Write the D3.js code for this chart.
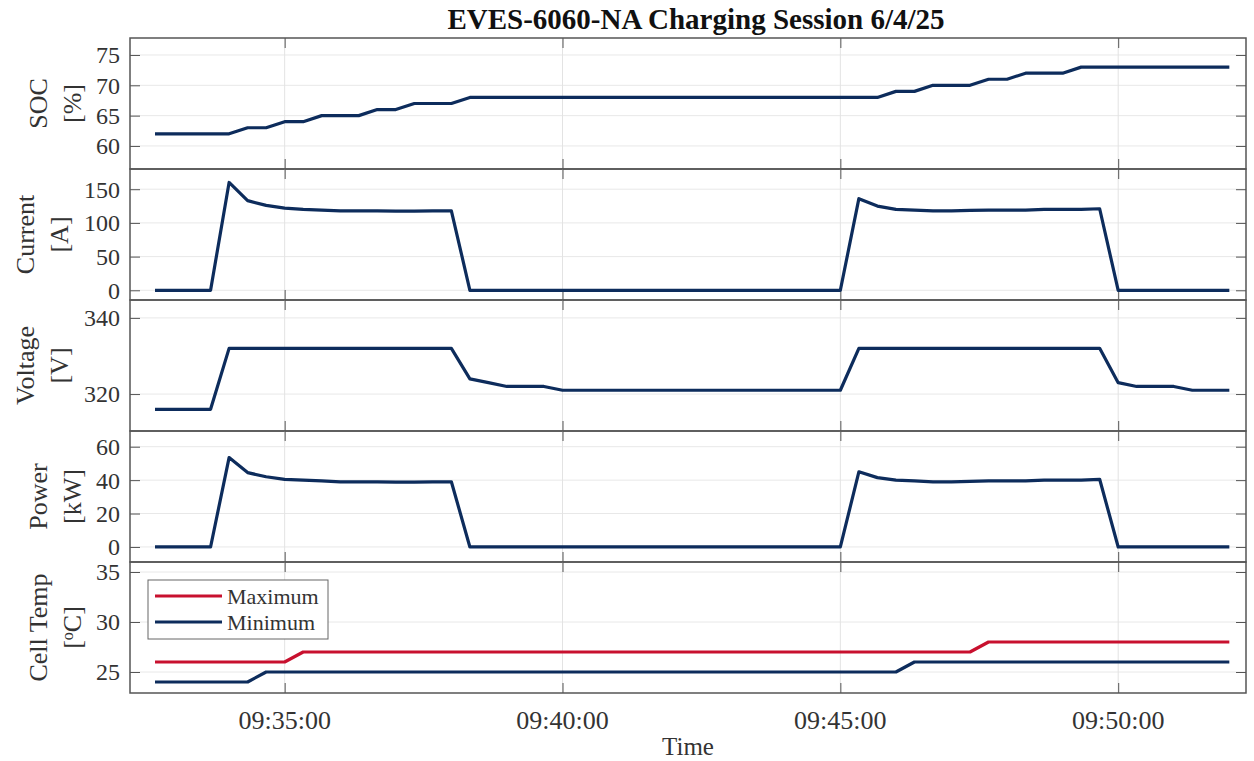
<!DOCTYPE html>
<html>
<head>
<meta charset="utf-8">
<script src="https://cdn.jsdelivr.net/npm/d3@7"></script>
<style>
  body { margin: 0; background: #fff; }
  svg text { font-family: "Liberation Serif", "Times New Roman", serif; fill: #333; }
</style>
</head>
<body>
<svg width="1254" height="761"></svg>
<script>
// data, times are hh:mm:ss
const socTimes = ['09:32:40','09:34:00','09:34:20','09:34:40','09:35:00','09:35:20','09:35:40','09:36:20','09:36:40','09:37:00','09:37:20','09:38:00','09:38:20','09:45:40','09:46:00','09:46:20','09:46:40','09:47:20','09:47:40','09:48:00','09:48:20','09:49:00','09:49:20','09:52:00'];
const socValues = [62,62,63,63,64,64,65,65,66,66,67,67,68,68,69,69,70,70,71,71,72,72,73,73];

const chargeTimes = ['09:32:40','09:33:40','09:34:00','09:34:20','09:34:40','09:35:00','09:35:20','09:35:40','09:36:00','09:36:20','09:36:40','09:37:00','09:37:20','09:37:40','09:38:00','09:38:20','09:45:00','09:45:20','09:45:40','09:46:00','09:46:20','09:46:40','09:47:00','09:47:20','09:47:40','09:48:00','09:48:20','09:48:40','09:49:00','09:49:20','09:49:40','09:50:00','09:52:00'];
const currentValues = [0,0,160,133,126,122,120,119,118,118,118,117.5,117.5,118,118,0,0,136,125,120,119,118,118,118.5,119,119,119,120,120,120,121,0,0];
const powerValues = [0,0,53.5,44.5,42,40.5,40,39.5,39,39,39,38.8,38.8,39,39,0,0,45,41.5,40,39.5,39,39,39.2,39.5,39.5,39.5,40,40,40,40.5,0,0];

const voltTimes = ['09:32:40','09:33:40','09:34:00','09:38:00','09:38:20','09:38:40','09:39:00','09:39:40','09:40:00','09:45:00','09:45:20','09:49:40','09:50:00','09:50:20','09:51:00','09:51:20','09:52:00'];
const voltValues = [316,316,332,332,324,323,322,322,321,321,332,332,323,322,322,321,321];

const tMaxTimes = ['09:32:40','09:35:00','09:35:20','09:47:20','09:47:40','09:52:00'];
const tMaxValues = [26,26,27,27,28,28];
const tMinTimes = ['09:32:40','09:34:20','09:34:40','09:46:00','09:46:20','09:52:00'];
const tMinValues = [24,24,25,25,26,26];

const xRange = ['09:32:13','09:52:18'];

const navy = '#0d2c5c';
const red = '#c8102e';

const parse = d3.timeParse('%H:%M:%S');
const zip = (ts, vs) => ts.map((t, i) => ({ t: parse(t), v: vs[i] }));

const panels = [
  { name: 'SOC', unit: '[%]', domain: [56.2, 77.8], ticks: [60,65,70,75], series: [{ data: zip(socTimes, socValues), color: navy }] },
  { name: 'Current', unit: '[A]', domain: [-14.4, 180], ticks: [0,50,100,150], series: [{ data: zip(chargeTimes, currentValues), color: navy }] },
  { name: 'Voltage', unit: '[V]', domain: [310.3, 344.7], ticks: [320,340], series: [{ data: zip(voltTimes, voltValues), color: navy }] },
  { name: 'Power', unit: '[kW]', domain: [-9, 69.4], ticks: [0,20,40,60], series: [{ data: zip(chargeTimes, powerValues), color: navy }] },
  { name: 'Cell Temp', unit: 'degC', domain: [22.9, 36], ticks: [25,30,35], series: [
      { data: zip(tMaxTimes, tMaxValues), color: red, label: 'Maximum' },
      { data: zip(tMinTimes, tMinValues), color: navy, label: 'Minimum' }] }
];

const svg = d3.select('svg');
const left = 130, right = 1246, top0 = 38, panelH = 131;
const boxColor = '#555';

const x = d3.scaleTime().domain(xRange.map(parse)).range([left, right]);
const xTicks = x.ticks(d3.timeMinute.every(5));
const fmt = d3.timeFormat('%H:%M:%S');

panels.forEach((p, i) => {
  const y0 = top0 + i * panelH, y1 = y0 + panelH;
  const y = d3.scaleLinear().domain(p.domain).range([y1, y0]);
  const g = svg.append('g');

  // grid
  g.selectAll('.hg').data(p.ticks).enter().append('line')
    .attr('x1', left).attr('x2', right)
    .attr('y1', d => y(d)).attr('y2', d => y(d))
    .attr('stroke', '#e8e8e8').attr('stroke-width', 1);
  g.selectAll('.vg').data(xTicks).enter().append('line')
    .attr('x1', d => x(d)).attr('x2', d => x(d))
    .attr('y1', y0).attr('y2', y1)
    .attr('stroke', '#e3e3e3').attr('stroke-width', 1);

  // inward ticks, MATLAB style
  const yl = d3.axisRight(y).tickValues(p.ticks).tickSize(10).tickFormat('');
  g.append('g').attr('transform', `translate(${left},0)`).call(yl);
  const yr = d3.axisLeft(y).tickValues(p.ticks).tickSize(10).tickFormat('');
  g.append('g').attr('transform', `translate(${right},0)`).call(yr);
  const xb = d3.axisTop(x).tickValues(xTicks).tickSize(10).tickFormat('');
  g.append('g').attr('transform', `translate(0,${y1})`).call(xb);
  const xt = d3.axisBottom(x).tickValues(xTicks).tickSize(10).tickFormat('');
  g.append('g').attr('transform', `translate(0,${y0})`).call(xt);
  g.selectAll('.domain').remove();
  g.selectAll('.tick line').attr('stroke', boxColor).attr('stroke-width', 1);

  // tick labels
  g.selectAll('.yl').data(p.ticks).enter().append('text')
    .attr('x', left - 10).attr('y', d => y(d))
    .attr('dy', '0.35em').attr('text-anchor', 'end')
    .style('font-size', '24px')
    .text(d => d);

  // lines
  const line = d3.line().x(d => x(d.t)).y(d => y(d.v));
  p.series.forEach(s => {
    g.append('path').datum(s.data)
      .attr('d', line)
      .attr('fill', 'none')
      .attr('stroke', s.color)
      .attr('stroke-width', 3.2)
      .attr('stroke-linejoin', 'round');
  });

  // box
  g.append('rect').attr('x', left).attr('y', y0)
    .attr('width', right - left).attr('height', panelH)
    .attr('fill', 'none').attr('stroke', boxColor).attr('stroke-width', 1.5);

  // y label, two lines; pushed left when tick labels have 3 digits
  const wide = d3.max(p.ticks, d => String(d).length) > 2 ? 13 : 0;
  const cy = (y0 + y1) / 2;
  const lab = g.append('text')
    .attr('transform', `translate(0,${cy}) rotate(-90)`)
    .attr('text-anchor', 'middle')
    .style('font-size', '26px');
  lab.append('tspan').attr('x', 0).attr('y', 47 - wide).text(p.name);
  const unit = lab.append('tspan').attr('x', 0).attr('y', 81 - wide);
  if (p.unit === 'degC') {
    unit.text('[');
    lab.append('tspan').attr('baseline-shift', 'super').style('font-size', '16px').text('o');
    lab.append('tspan').text('C]');
  } else {
    unit.text(p.unit);
  }

  // legend in the last panel
  if (p.series.length > 1) {
    const lg = g.append('g');
    lg.append('rect').attr('x', 148).attr('y', 580).attr('width', 180).attr('height', 59)
      .attr('fill', '#fff').attr('stroke', '#666').attr('stroke-width', 1);
    p.series.forEach((s, k) => {
      const ly = 596 + k * 26;
      lg.append('line').attr('x1', 155).attr('x2', 222).attr('y1', ly).attr('y2', ly)
        .attr('stroke', s.color).attr('stroke-width', 3.2);
      lg.append('text').attr('x', 227).attr('y', ly).attr('dy', '0.35em')
        .style('font-size', '22px').text(s.label);
    });
  }
});

// bottom axis labels
const bottom = top0 + panels.length * panelH;
svg.selectAll('.xl').data(xTicks).enter().append('text')
  .attr('x', d => x(d)).attr('y', bottom + 27)
  .attr('dy', '0.35em').attr('text-anchor', 'middle')
  .style('font-size', '26px')
  .text(d => fmt(d));

svg.append('text').attr('x', (left + right) / 2).attr('y', bottom + 53)
  .attr('dy', '0.35em').attr('text-anchor', 'middle')
  .style('font-size', '25px').text('Time');

svg.append('text').attr('x', 696).attr('y', 19)
  .attr('dy', '0.35em').attr('text-anchor', 'middle')
  .style('font-size', '29px').style('font-weight', 'bold').style('fill', '#111')
  .text('EVES-6060-NA Charging Session 6/4/25');
</script>
</body>
</html>
